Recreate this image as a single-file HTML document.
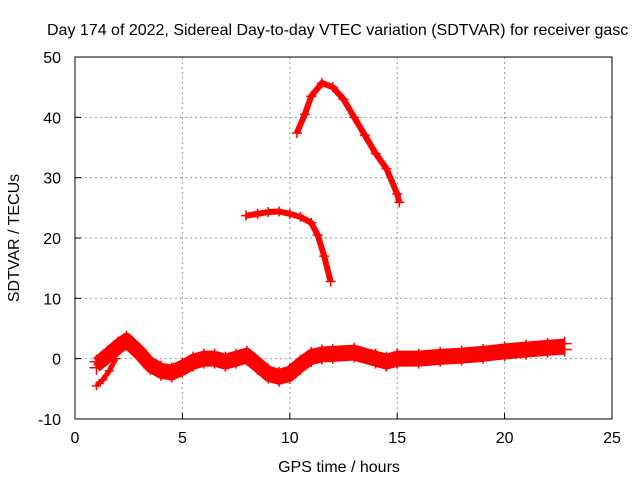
<!DOCTYPE html>
<html><head><meta charset="utf-8"><style>
body{margin:0;background:#fff}
svg{display:block}
text{font-family:"Liberation Sans",sans-serif;font-size:16px;fill:#000}
</style></head><body>
<svg id="chart" width="640" height="480">
<text x="47" y="35">Day 174 of 2022, Sidereal Day-to-day VTEC variation (SDTVAR) for receiver gasc</text>
<g id="grid"></g>
<g id="series"></g>
<g id="axes"></g>
<text x="339" y="472" text-anchor="middle">GPS time / hours</text>
<text transform="translate(19,238) rotate(-90)" text-anchor="middle">SDTVAR / TECUs</text>
</svg>
<script>
const xTicks=[0,5,10,15,20,25];
const yTicks=[-10,0,10,20,30,40,50];
const bandHours=[1.0,1.5,2.0,2.4,3.0,3.5,4.0,4.5,5.0,5.5,6.0,6.5,7.0,7.5,8.0,8.5,9.0,9.5,10.0,10.5,11.0,11.5,12.0,13.0,14.0,14.5,15,16,17,18,19,20,21,22,22.8];
const bandValues=[-1,0.5,2,3,1,-1,-2,-2.3,-1.5,-0.5,0,0,-0.5,0,0.5,-1,-2.5,-3,-2.5,-1,0.3,0.7,0.8,1,0,-0.5,0,0,0.3,0.5,0.8,1.2,1.5,1.8,2];
const tailHours=[1.0,1.3,1.6,1.9];
const tailValues=[-4.5,-3.5,-2,0];
const arcHours=[10.33,10.7,11.0,11.5,12.0,12.5,13.0,13.5,14.0,14.5,15.0,15.1];
const arcValues=[37.4,40.5,43.5,45.7,45,43,40,37,34,31.5,27.3,25.9];
const midHours=[7.96,8.5,9.0,9.5,10.0,10.5,11.0,11.3,11.6,11.9];
const midValues=[23.7,24,24.3,24.4,24,23.5,22.5,20.5,17,12.8];

const L=75,R=612,T=57,B=419;
const xs=v=>L+(v-0)/(25-0)*(R-L);
const ys=v=>B-(v+10)/60*(B-T);
const NS="http://www.w3.org/2000/svg";
function mk(tag,attrs,parent){const e=document.createElementNS(NS,tag);for(const k in attrs)e.setAttribute(k,attrs[k]);parent.appendChild(e);return e;}
const grid=document.getElementById('grid'),axes=document.getElementById('axes'),ser=document.getElementById('series');
xTicks.forEach(t=>{
  if(t>0&&t<25){const g=mk('line',{x1:xs(t),x2:xs(t),y1:T,y2:B,stroke:'#999','stroke-dasharray':'2,3'},grid);
  
  }
  const lb=mk('text',{x:xs(t),y:B+24,'text-anchor':'middle'},axes);lb.textContent=t;
  
  
  mk('line',{x1:xs(t),x2:xs(t),y1:B,y2:B-6,stroke:'#000'},axes);
});
yTicks.forEach(t=>{
  if(t>-10&&t<50){const g=mk('line',{x1:L,x2:R,y1:ys(t),y2:ys(t),stroke:'#999','stroke-dasharray':'2,3'},grid);
  
  }
  const lb=mk('text',{x:L-14,y:ys(t)+6,'text-anchor':'end'},axes);lb.textContent=t;
  
  
  mk('line',{x1:L,x2:L+6,y1:ys(t),y2:ys(t),stroke:'#000'},axes);
});
const fr=mk('rect',{x:L,y:T,width:R-L,height:B-T,fill:'none',stroke:'#000'},axes);


function draw(h,v,w,name,off){
  const pts=h.map((x,i)=>xs(x)+','+(ys(v[i])+(off||0))).join(' ');
  const p=mk('polyline',{points:pts,fill:'none',stroke:'#f00','stroke-width':w,'stroke-linejoin':'round','stroke-linecap':'butt'},ser);
  
  
  h.forEach((x,i)=>{const cx=xs(x),cy=ys(v[i])+(off||0);
    mk('path',{d:`M${cx-w/2-2},${cy}h${w+4}M${cx},${cy-w/2-2}v${w+4}`,stroke:'#f00','stroke-width':1.5},ser);});
}
draw(bandHours,bandValues,10,'sdtvar-band-upper',-3);
draw(bandHours,bandValues,10,'sdtvar-band-lower',3);
draw(tailHours,tailValues,5,'sdtvar-start-tail',0);
draw(arcHours,arcValues,6,'sdtvar-arc-series',0);
draw(midHours,midValues,6,'sdtvar-mid-series',0);
</script>
</body></html>
